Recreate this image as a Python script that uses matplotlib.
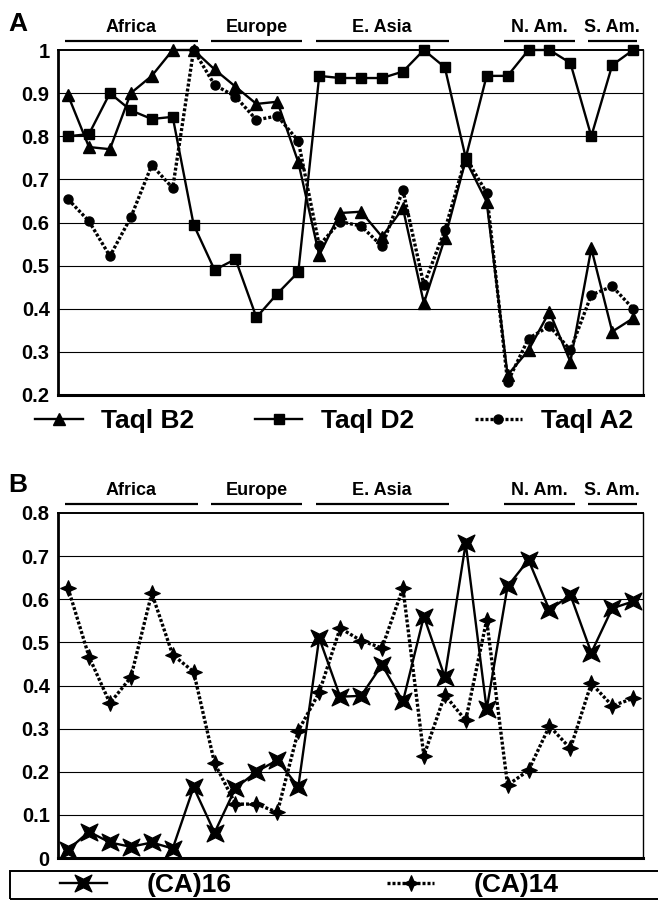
import numpy as np
import matplotlib
matplotlib.use("Agg")
import matplotlib.pyplot as plt
from matplotlib.path import Path
from matplotlib.transforms import Affine2D, blended_transform_factory
from matplotlib.patches import Rectangle

plt.rcParams['font.family'] = ['Liberation Sans', 'DejaVu Sans']
plt.rcParams['font.weight'] = 'bold'

# ------------------------------------------------------------
# Data (28 populations)
# ------------------------------------------------------------
taq_b2 = [0.895, 0.775, 0.77, 0.90, 0.94, 1.0, 1.0, 0.955, 0.915, 0.875,
          0.88, 0.74, 0.524, 0.622, 0.625, 0.567, 0.633, 0.413, 0.563, 0.745,
          0.648, 0.246, 0.304, 0.393, 0.277, 0.54, 0.347, 0.378]
taq_d2 = [0.80, 0.805, 0.90, 0.86, 0.84, 0.845, 0.595, 0.49, 0.515, 0.38,
          0.435, 0.485, 0.94, 0.935, 0.935, 0.935, 0.95, 1.0, 0.96, 0.75,
          0.94, 0.94, 1.0, 1.0, 0.97, 0.80, 0.965, 1.0]
taq_a2 = [0.654, 0.603, 0.522, 0.612, 0.733, 0.68, 1.0, 0.919, 0.892, 0.838,
          0.847, 0.789, 0.547, 0.602, 0.592, 0.545, 0.675, 0.455, 0.582, 0.75,
          0.669, 0.23, 0.331, 0.36, 0.304, 0.432, 0.452, 0.40]

ca16 = [0.019, 0.061, 0.036, 0.026, 0.036, 0.022, 0.164, 0.059, 0.162, 0.20,
        0.227, 0.165, 0.51, 0.374, 0.376, 0.448, 0.363, 0.56, 0.42, 0.73,
        0.345, 0.63, 0.691, 0.575, 0.61, 0.476, 0.579, 0.595]
ca14 = [0.626, 0.467, 0.359, 0.419, 0.614, 0.471, 0.432, 0.22, 0.125, 0.125,
        0.106, 0.295, 0.384, 0.533, 0.504, 0.487, 0.626, 0.237, 0.378, 0.319,
        0.552, 0.169, 0.203, 0.306, 0.254, 0.405, 0.353, 0.37]

regions = ["Africa", "Europe", "E. Asia", "N. Am.", "S. Am."]
region_first = [0, 7, 12, 21, 25]
region_last = [6, 11, 18, 24, 27]

ticks_a = [0.2, 0.3, 0.4, 0.5, 0.6, 0.7, 0.8, 0.9, 1.0]
ticks_b = [0, 0.1, 0.2, 0.3, 0.4, 0.5, 0.6, 0.7, 0.8]

x = np.arange(len(taq_b2))

# ------------------------------------------------------------
# markers
# ------------------------------------------------------------
star4 = Path.unit_regular_star(4, 0.42)
xstar = Path.unit_regular_star(4, 0.36).transformed(Affine2D().rotate_deg(45))

solid = dict(color='black', lw=1.7)
dotted = dict(color='black', lw=2.4, linestyle=(0, (0.9, 0.6)),
              dash_capstyle='butt')

fig = plt.figure(figsize=(6.58, 9.0), dpi=100)
ax_a = fig.add_axes([58/658, 1-395/900, 585/658, 345/900])
ax_b = fig.add_axes([58/658, 1-858/900, 585/658, 345/900])


def style_axes(ax, ticks, lo, hi):
    ax.set_xlim(-0.48, 27.47)
    ax.set_ylim(lo, hi)
    ax.set_yticks(ticks)
    ax.set_yticklabels([("%g" % t) for t in ticks], fontsize=14.5,
                       fontweight='bold')
    ax.set_xticks([])
    ax.tick_params(axis='y', length=0, pad=6)
    for t in ticks[1:-1]:
        ax.axhline(t, color='black', lw=0.8, zorder=0)
    ax.spines['left'].set_linewidth(2.0)
    ax.spines['bottom'].set_linewidth(2.2)
    ax.spines['top'].set_linewidth(1.4)
    ax.spines['right'].set_linewidth(1.0)
    # region bars and names above plot
    tr = blended_transform_factory(ax.transData, ax.transAxes)
    for name, a, b in zip(regions, region_first, region_last):
        ax.plot([a - 0.15, b + 0.2], [1.026, 1.026], color='black', lw=1.6,
                transform=tr, clip_on=False, solid_capstyle='butt')
        ax.text((a + b) / 2, 1.064, name, transform=tr, ha='center',
                va='center', fontsize=13, fontweight='bold')


# ---------------- panel A ----------------
style_axes(ax_a, ticks_a, 0.2, 1.0)
lb2, = ax_a.plot(x, taq_b2, marker='^', ms=8.5, mfc='black', mec='black',
                 label='Taql B2', clip_on=False, **solid)
ld2, = ax_a.plot(x, taq_d2, marker='s', ms=6.8, mfc='black', mec='black',
                 label='Taql D2', clip_on=False, **solid)
la2, = ax_a.plot(x, taq_a2, marker='o', ms=6.5, mfc='black', mec='black',
                 label='Taql A2', clip_on=False, **dotted)
fig.text(8/658, 1-24/900, "A", fontsize=19, fontweight='bold', va='center')

fig.legend(handles=[lb2, ld2, la2], loc='center left',
           bbox_to_anchor=(35/658, 1-421/900), ncol=3, frameon=False,
           handlelength=1.8, handletextpad=0.7,
           columnspacing=2.3, borderpad=0, borderaxespad=0, numpoints=1,
           prop=dict(size=19, weight='bold'))

# ---------------- panel B ----------------
style_axes(ax_b, ticks_b, 0.0, 0.8)
l16, = ax_b.plot(x, ca16, marker=xstar, ms=12, mfc='black', mec='black',
                 label='(CA)16', clip_on=False, **solid)
l14, = ax_b.plot(x, ca14, marker=star4, ms=11, mfc='black', mec='black',
                 label='(CA)14', clip_on=False, **dotted)
fig.text(8/658, 1-485/900, "B", fontsize=19, fontweight='bold', va='center')

fig.patches.append(Rectangle((10/658, 1-899/900), 700/658, 28/900,
                             transform=fig.transFigure, fill=False,
                             edgecolor='black', lw=1.4))
fig.legend(handles=[l16, l14], loc='center left',
           bbox_to_anchor=(60/658, 1-885/900), ncol=2, frameon=False,
           handlelength=1.78, handletextpad=1.5, columnspacing=5.9,
           borderpad=0, borderaxespad=0, numpoints=1,
           prop=dict(size=19, weight='bold'))

plt.savefig("out.png", dpi=100)
